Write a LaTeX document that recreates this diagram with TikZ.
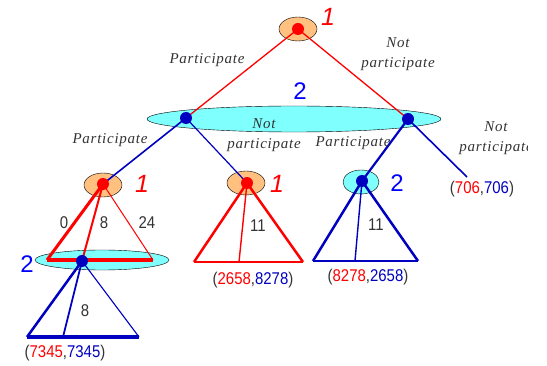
\documentclass[tikz,border=0pt]{standalone}
\usepackage{fontspec}
\setmainfont{Liberation Serif}
\newfontfamily\numfont[FakeStretch=0.88]{Liberation Sans}
\newfontfamily\plfont{Liberation Sans}
\newfontfamily\actfont[LetterSpace=5]{Liberation Serif}
\usepackage{xcolor}
\usepackage{tikz}
\usetikzlibrary{shapes.geometric}
\definecolor{orgfill}{HTML}{FFC080}
\definecolor{cyfill}{HTML}{80FFFF}
\definecolor{dblue}{HTML}{0000C0}
\definecolor{lblue}{HTML}{0000FF}

\begin{document}
\begin{tikzpicture}[x=1pt,y=-1pt,
  redpt/.style={circle, fill=red, inner sep=0pt, minimum size=12pt},
  bluept/.style={circle, fill=dblue, inner sep=0pt, minimum size=12pt},
  orgset/.style={ellipse, draw, thin, fill=orgfill, inner sep=0pt, minimum width=38pt, minimum height=24pt},
  cyset/.style={ellipse, draw, thin, fill=cyfill, inner sep=0pt, minimum width=36pt, minimum height=24pt},
  act/.style={font=\actfont\itshape\fontsize{15}{20}\selectfont, text=black!80, align=center, inner sep=0pt},
  pl1/.style={font=\plfont\itshape\fontsize{25}{25}\selectfont, text=red},
  pl2/.style={font=\plfont\fontsize{24}{24}\selectfont, text=lblue},
  num/.style={font=\numfont\fontsize{17}{17}\selectfont, text=black!80},
  pay/.style={font=\numfont\fontsize{17}{17}\selectfont, text=black!80}]
\useasboundingbox (0,0) rectangle (547,366);

% --- Information sets ---
\node[orgset] (s0) at (298,29) {};
\node[cyset, minimum width=294pt, minimum height=26pt] (s1) at (294,119) {};
\node[orgset] (s2) at (103,185) {};
\node[orgset] (s3) at (246,183) {};
\node[cyset] (s4) at (361,182) {};
\node[cyset, minimum width=134pt, minimum height=20pt] (s5) at (102,260) {};

% --- Decision points ---
\coordinate (r) at (298,29);
\coordinate (a) at (186,118);
\coordinate (b) at (408,119);
\coordinate (aa) at (103,184);
\coordinate (ab) at (247,183);
\coordinate (ba) at (362,181);
\coordinate (bb) at (467,177);
\coordinate (c) at (82,261);

% Edges
\draw[red, line width=1.3pt] (r) -- (a);
\draw[red, line width=1.3pt] (r) -- (b);
\draw[dblue, line width=1.6pt] (a) -- (aa);
\draw[dblue, line width=1.2pt] (a) -- (ab);
\draw[dblue, line width=2.2pt] (b) -- (ba);
\draw[dblue, line width=1.6pt] (b) -- (bb);

% Triangle under player 1 (left)
\coordinate (t1l) at (47,260);
\coordinate (t1r) at (153,260);
\draw[red, line width=3pt] (aa) -- (t1l);
\draw[red, line width=2pt] (aa) -- (c);
\draw[red, line width=1pt] (aa) -- (t1r);
\draw[red, line width=3.5pt] (t1l) -- (t1r);

% Triangle under player 2 (bottom)
\coordinate (t2l) at (27,337);
\coordinate (t2m) at (63,337);
\coordinate (t2r) at (139,337);
\draw[dblue, line width=2.5pt] (c) -- (t2l);
\draw[dblue, line width=1.8pt] (c) -- (t2m);
\draw[dblue, line width=1.1pt] (c) -- (t2r);
\draw[dblue, line width=3.5pt] (t2l) -- (t2r);

% Triangle under player 1 (middle)
\coordinate (t3l) at (194,262);
\coordinate (t3m) at (239,262);
\coordinate (t3r) at (303,262);
\draw[red, line width=2.5pt] (ab) -- (t3l);
\draw[red, line width=1.4pt] (ab) -- (t3m);
\draw[red, line width=2.5pt] (ab) -- (t3r);
\draw[red, line width=1.8pt] (t3l) -- (t3r);

% Triangle under player 2 (right)
\coordinate (t4l) at (313,261);
\coordinate (t4m) at (355,261);
\coordinate (t4r) at (418,261);
\draw[dblue, line width=2.5pt] (ba) -- (t4l);
\draw[dblue, line width=1.4pt] (ba) -- (t4m);
\draw[dblue, line width=2.5pt] (ba) -- (t4r);
\draw[dblue, line width=1.8pt] (t4l) -- (t4r);

% Dots on top
\foreach \p in {r,aa,ab} \node[redpt] (\p-pt) at (\p) {};
\foreach \p in {a,b,ba,c} \node[bluept] (\p-pt) at (\p) {};

% --- Player labels ---
\node[pl1] (l0) at (328,17) {1};
\node[pl2] (l1) at (300,91) {2};
\node[pl1] (l2) at (142,184) {1};
\node[pl1] (l3) at (277,184) {1};
\node[pl2] (l4) at (397,183) {2};
\node[pl2] (l5) at (27,264) {2};

% --- Actions ---
\node[act] (m0) at (207,60) {Participate};
\node[act] (m1) at (398,54) {Not\\participate};
\node[act] (m2) at (110,140) {Participate};
\node[act] (m3) at (264,135) {Not\\participate};
\node[act] (m4) at (353,143) {Participate};
\begin{scope}
  \clip (0,0) rectangle (527,366);
  \node[act] (m5) at (496,138) {Not\\participate};
\end{scope}

% --- Numbers and payoffs ---
\node[num] (n0) at (64,223) {0};
\node[num] (n1) at (104,223) {8};
\node[num] (n2) at (147,223) {24};
\node[num] (n3) at (258,226) {11};
\node[num] (n4) at (376,225) {11};
\node[num] (n5) at (85,311) {8};
\node[pay] (p0) at (482,189) {(\textcolor{red}{706},\textcolor{dblue}{706})};
\node[pay] (p1) at (253,280) {(\textcolor{red}{2658},\textcolor{dblue}{8278})};
\node[pay] (p2) at (368,277) {(\textcolor{red}{8278},\textcolor{dblue}{2658})};
\node[pay] (p3) at (65,353) {(\textcolor{red}{7345},\textcolor{dblue}{7345})};
\end{tikzpicture}
\end{document}
